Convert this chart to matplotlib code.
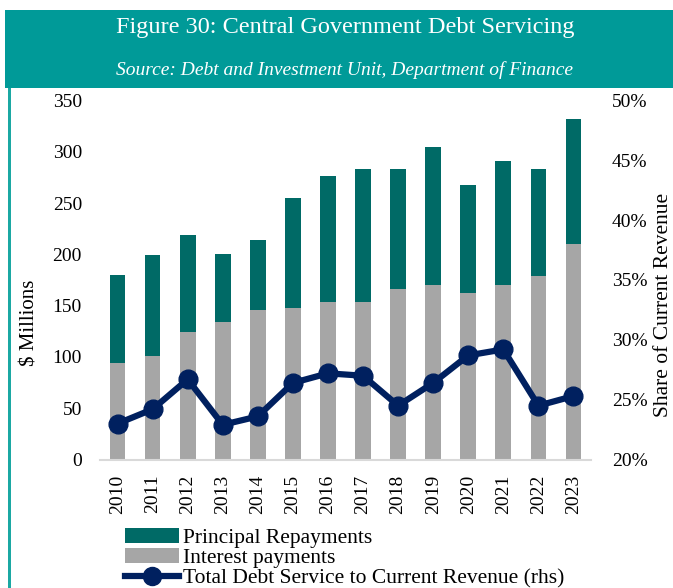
import numpy as np
import matplotlib
matplotlib.use("Agg")
import matplotlib.pyplot as plt
from matplotlib.patches import Rectangle
from matplotlib.lines import Line2D
from matplotlib.patches import Patch
import matplotlib.ticker as mticker

plt.rcParams['font.family'] = ['Liberation Serif', 'DejaVu Serif']

years = ['2010', '2011', '2012', '2013', '2014', '2015', '2016',
         '2017', '2018', '2019', '2020', '2021', '2022', '2023']
interest = [94, 101, 124, 134, 146, 148, 154, 154, 166, 170, 162, 170, 179, 210]
total = [180, 199, 219, 200, 214, 255, 276, 283, 283, 305, 268, 291, 283, 332]
principal = [t - i for t, i in zip(total, interest)]
share = [23.0, 24.2, 26.7, 22.9, 23.6, 26.4, 27.2, 27.0, 24.5, 26.4, 28.7, 29.2, 24.5, 25.3]

TEAL_BAND = '#009A98'
TEAL_LINE = '#1BA8A3'
TEAL_BAR = '#006A66'
GREY_BAR = '#A6A6A6'
NAVY = '#00205F'

W, H = 673, 588
fig = plt.figure(figsize=(W / 100, H / 100), dpi=100)

# header band and left border
fig.patches.append(Rectangle((5 / W, 1 - 88 / H), 1, 78 / H, transform=fig.transFigure,
                             facecolor=TEAL_BAND, edgecolor='none', zorder=0))
fig.patches.append(Rectangle((8 / W, 0), 3 / W, 1 - 88 / H, transform=fig.transFigure,
                             facecolor=TEAL_LINE, edgecolor='none', zorder=0))

fig.text(345 / W, 1 - 27 / H, 'Figure 30: Central Government Debt Servicing',
         color='white', fontsize=17.5, ha='center', va='center')
fig.text(345 / W, 1 - 70 / H, 'Source: Debt and Investment Unit, Department of Finance',
         color='white', fontsize=14, style='italic', ha='center', va='center')

ax = fig.add_axes([100 / W, 1 - 459.5 / H, 491 / W, 359 / H])
x = np.arange(len(years))
width = 0.45
ax.bar(x, interest, width, color=GREY_BAR, zorder=2)
ax.bar(x, principal, width, bottom=interest, color=TEAL_BAR, zorder=2)
ax.set_xlim(-0.5, len(years) - 0.5)
ax.set_ylim(0, 350)
ax.yaxis.set_major_locator(mticker.MultipleLocator(50))
ax.set_xticks(x)
ax.set_xticklabels(years, rotation=90, fontsize=14)
ax.tick_params(axis='y', length=0, labelsize=14, pad=13)
ax.tick_params(axis='x', length=0, pad=11)
for s in ['top', 'right', 'left']:
    ax.spines[s].set_visible(False)
ax.spines['bottom'].set_color('#D9D9D9')
ax.spines['bottom'].set_linewidth(1.5)

ax2 = ax.twinx()
ax2.plot(x, share, color=NAVY, linewidth=4.5, marker='o', markersize=13.5, zorder=3)
ax2.set_ylim(20, 50)
ax2.yaxis.set_major_locator(mticker.MultipleLocator(5))
ax2.yaxis.set_major_formatter(mticker.FuncFormatter(lambda v, p: f'{v:.0f}%'))
ax2.tick_params(axis='y', length=0, labelsize=14, pad=15)
for s in ['top', 'right', 'left', 'bottom']:
    ax2.spines[s].set_visible(False)

fig.text(30 / W, 1 - 323 / H, '$ Millions', rotation=90, fontsize=15,
         ha='center', va='center')
fig.text(663 / W, 1 - 305 / H, 'Share of Current Revenue', rotation=90, fontsize=15.5,
         ha='center', va='center')

handles = [Patch(facecolor=TEAL_BAR, label='Principal Repayments'),
           Patch(facecolor=GREY_BAR, label='Interest payments'),
           Line2D([0], [0], color=NAVY, linewidth=4.5, marker='o', markersize=13,
                  label='Total Debt Service to Current Revenue (rhs)')]
fig.legend(handles=handles, loc='upper left', bbox_to_anchor=(125 / W, 1 - 528 / H),
           frameon=False, fontsize=15.5, handlelength=2.5, handletextpad=0.2,
           labelspacing=0.0, borderaxespad=0, borderpad=0)

fig.savefig('out.png', dpi=100)
